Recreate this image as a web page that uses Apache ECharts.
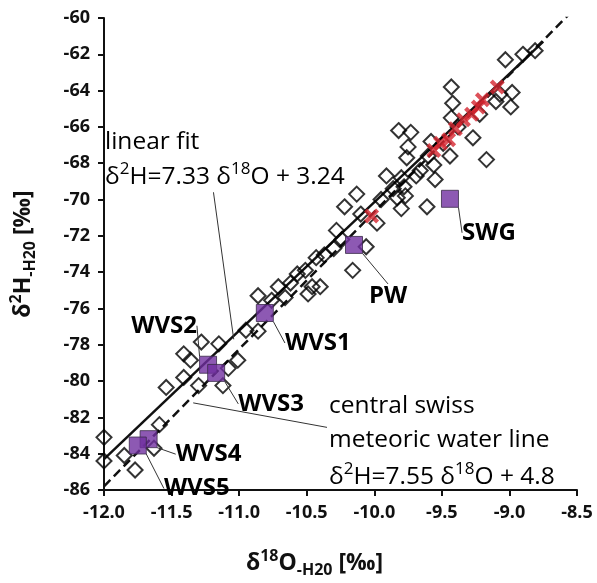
<!DOCTYPE html>
<html>
<head>
<meta charset="utf-8">
<script src="https://cdn.jsdelivr.net/npm/echarts@6/dist/echarts.min.js"></script>
<style>
  html, body { margin: 0; padding: 0; background: #fff; }
  #chart { width: 597px; height: 583px; }
</style>
</head>
<body>
<div id="chart"></div>
<script>
// measured samples (open diamonds) [d18O, d2H]
const samples = [
  [-9.03, -62.3], [-8.90, -62.0], [-8.81, -61.8], [-9.43, -63.8], [-8.98, -64.1],
  [-8.99, -64.9], [-9.10, -64.6], [-9.42, -64.7], [-9.43, -65.5], [-9.22, -65.3],
  [-9.27, -66.6], [-9.17, -67.8], [-9.44, -67.6], [-9.82, -66.2], [-9.73, -66.3],
  [-9.75, -67.1], [-9.76, -67.7], [-9.58, -66.8], [-9.07, -64.2], [-9.38, -66.0],
  [-9.49, -66.9], [-9.60, -67.6],
  [-9.91, -68.7], [-9.80, -68.8], [-9.78, -69.3], [-9.55, -68.9], [-9.77, -69.8],
  [-9.83, -69.9], [-10.13, -69.7], [-10.22, -70.4], [-10.10, -70.8], [-9.80, -70.5],
  [-9.61, -70.4], [-9.98, -71.3], [-9.56, -68.1], [-9.69, -68.7], [-9.66, -68.4],
  [-9.86, -69.4], [-9.95, -70.0],
  [-10.06, -72.6], [-10.16, -73.9], [-10.28, -71.7], [-10.37, -73.05], [-10.43, -73.2],
  [-10.51, -73.9], [-10.57, -74.1], [-10.46, -74.8], [-10.40, -74.8], [-10.71, -74.8],
  [-10.86, -75.3], [-10.49, -75.2], [-10.66, -75.4], [-10.76, -75.55], [-10.24, -72.2],
  [-10.62, -74.6], [-10.30, -72.7], [-10.95, -77.2], [-10.86, -77.25],
  [-11.28, -77.85], [-11.15, -77.95], [-11.41, -78.5], [-11.36, -78.85], [-11.01, -78.85],
  [-11.08, -79.3], [-11.41, -79.8], [-11.54, -80.35], [-11.30, -80.25], [-11.12, -80.25],
  [-11.59, -82.4], [-11.63, -83.7], [-11.85, -84.1], [-11.77, -84.9], [-12.0, -83.1],
  [-12.0, -84.4]
];

// red crosses
const crosses = [
  [-9.09, -63.8], [-9.20, -64.5], [-9.23, -64.9], [-9.28, -65.3], [-9.34, -65.6],
  [-9.40, -66.1], [-9.45, -66.7], [-9.51, -66.9], [-9.56, -67.3], [-10.02, -70.9]
];

// named sites (purple squares)
const siteNames = ['WVS1', 'WVS2', 'WVS3', 'WVS4', 'WVS5', 'PW', 'SWG'];
const siteX = [-10.81, -11.23, -11.17, -11.67, -11.75, -10.15, -9.44];
const siteY = [-76.25, -79.1, -79.55, -83.2, -83.55, -72.5, -69.96];

// regression lines (end points)
const fitLine = [[-12.0, -84.3], [-8.75, -61.3]];
const cmwlLine = [[-12.0, -85.8], [-8.56, -59.8]];

// leader lines of the two annotations
const fitLeader = [[-11.19, -69.6], [-11.04, -77.7]];
const cmwlLeader = [[-11.34, -81.2], [-10.35, -82.55]];

const sites = siteNames.map((n, i) => ({ name: n, value: [siteX[i], siteY[i]] }));

// label shifts for the site names (px)
const labelShift = {
  WVS1: [53, 30], WVS2: [-44, -39], WVS3: [55, 31], WVS4: [60, 15],
  WVS5: [59, 43], PW: [34, 51], SWG: [39, 34]
};

const FONT = '"Open Sans", "DejaVu Sans", sans-serif';
const GRAY = '#7f7f7f';

const chart = echarts.init(document.getElementById('chart'));

const supRich = {
  b: { fontFamily: FONT, fontSize: 23, fontWeight: 'bold', color: '#111', lineHeight: 30 },
  sup: { fontFamily: FONT, fontSize: 16, fontWeight: 'bold', color: '#111', verticalAlign: 'top', lineHeight: 16 },
  sub: { fontFamily: FONT, fontSize: 16, fontWeight: 'bold', color: '#111', verticalAlign: 'bottom', lineHeight: 14 }
};
const grayRich = {
  t: { fontFamily: FONT, fontSize: 24.5, color: GRAY, lineHeight: 32 },
  s: { fontFamily: FONT, fontSize: 17, color: GRAY, verticalAlign: 'top', lineHeight: 17 }
};

chart.setOption({
  animation: false,
  grid: { left: 96, right: 20, top: 18, bottom: 76 },
  xAxis: {
    type: 'value', min: -12, max: -8.5, interval: 0.5,
    splitLine: { show: false },
    axisLine: { onZero: false, lineStyle: { color: '#111', width: 2 } },
    axisTick: { length: 6, lineStyle: { color: '#111', width: 2 } },
    axisLabel: {
      formatter: v => v.toFixed(1), margin: 14,
      fontFamily: FONT, fontSize: 18, fontWeight: 'bold', color: '#111'
    },
    name: '{b|δ}{sup|18}{b|O}{sub|-H20}{b| [‰]}',
    nameLocation: 'middle', nameGap: 58,
    nameTextStyle: { rich: supRich, padding: [0, 52, 0, 0] }
  },
  yAxis: {
    type: 'value', min: -86, max: -60, interval: 2,
    splitLine: { show: false },
    axisLine: { onZero: false, lineStyle: { color: '#111', width: 2 } },
    axisTick: { length: 6, lineStyle: { color: '#111', width: 2 } },
    axisLabel: {
      margin: 14,
      fontFamily: FONT, fontSize: 18, fontWeight: 'bold', color: '#111'
    },
    name: '{b|δ}{sup|2}{b|H}{sub|-H20}{b| [‰]}',
    nameLocation: 'middle', nameGap: 66,
    nameTextStyle: { rich: supRich }
  },
  graphic: [
    { type: 'text', left: 105, top: 130, style: { text: '{t|linear fit}', rich: grayRich } },
    { type: 'text', left: 105, top: 161, style: { text: '{t|δ}{s|2}{t|H=7.33 δ}{s|18}{t|O + 3.24}', rich: grayRich } },
    { type: 'text', left: 329, top: 394, style: { text: '{t|central swiss}', rich: grayRich } },
    { type: 'text', left: 329, top: 428, style: { text: '{t|meteoric water line}', rich: grayRich } },
    { type: 'text', left: 329, top: 461, style: { text: '{t|δ}{s|2}{t|H=7.55 δ}{s|18}{t|O + 4.8}', rich: grayRich } }
  ],
  series: [
    {
      name: 'central swiss MWL', type: 'line', data: cmwlLine,
      symbol: 'none', silent: true, z: 1,
      lineStyle: { color: '#111', width: 2.5, type: [9, 5] },
      markLine: {
        silent: true, symbol: 'none', label: { show: false },
        lineStyle: { color: '#333', width: 1, type: 'solid' },
        data: [[{ coord: cmwlLeader[0] }, { coord: cmwlLeader[1] }]]
      }
    },
    {
      name: 'linear fit', type: 'line', data: fitLine,
      symbol: 'none', silent: true, z: 1,
      lineStyle: { color: '#111', width: 2.5 },
      markLine: {
        silent: true, symbol: 'none', label: { show: false },
        lineStyle: { color: '#333', width: 1, type: 'solid' },
        data: [[{ coord: fitLeader[0] }, { coord: fitLeader[1] }]]
      }
    },
    {
      name: 'samples', type: 'scatter', data: samples, z: 3,
      symbol: 'diamond', symbolSize: 15,
      itemStyle: { color: 'rgba(0,0,0,0)', borderColor: '#000', borderWidth: 2 }
    },
    {
      name: 'crosses', type: 'scatter', data: crosses, z: 4,
      symbol: 'path://M0,2 L2,0 L5,3 L8,0 L10,2 L7,5 L10,8 L8,10 L5,7 L2,10 L0,8 L3,5 Z',
      symbolSize: 15,
      itemStyle: { color: '#d5262f' }
    },
    {
      name: 'sites', type: 'scatter', data: sites, z: 5,
      symbol: 'rect', symbolSize: 17,
      itemStyle: { color: '#7030a0', borderColor: '#3a2a48', borderWidth: 1 },
      label: {
        show: true, position: 'inside', formatter: '{b}',
        fontFamily: FONT, fontSize: 24, fontWeight: 'bold', color: '#000',
        textBorderWidth: 0, opacity: 1
      },
      labelLine: { show: true, lineStyle: { color: '#333', width: 1 } },
      labelLayout: p => {
        const s = labelShift[siteNames[p.dataIndex]];
        return { dx: s[0], dy: s[1] };
      }
    }
  ]
});
</script>
</body>
</html>
